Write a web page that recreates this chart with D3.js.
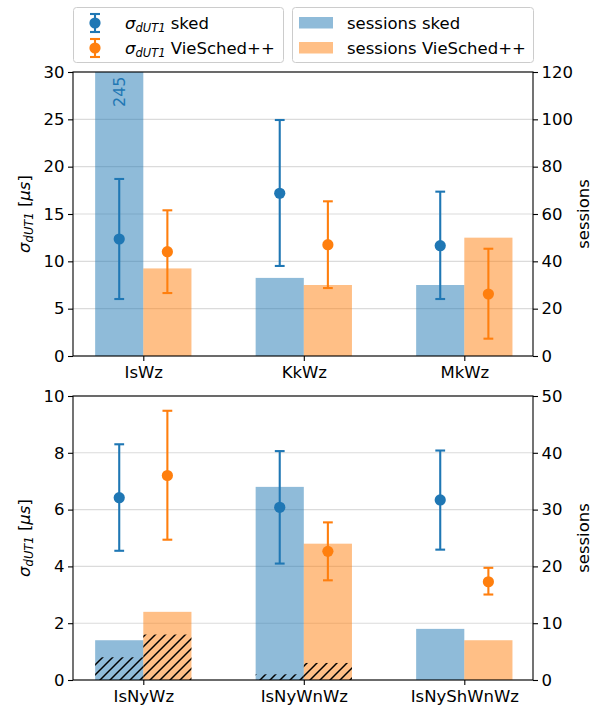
<!DOCTYPE html>
<html>
<head>
<meta charset="utf-8">
<script src="https://cdn.jsdelivr.net/npm/d3@7"></script>
<style>
  body { margin: 0; background: #fff; }
  svg { font-family: "DejaVu Sans", sans-serif; }
</style>
</head>
<body>
<svg id="svg" width="605" height="709"></svg>
<script>
// --- data ---
const topCategories = ['IsWz', 'KkWz', 'MkWz'];
const topSkedSigma = [12.36, 17.19, 11.65];
const topSkedLow = [6.02, 9.51, 6.02];
const topSkedHigh = [18.7, 24.93, 17.36];
const topVieSigma = [11.02, 11.76, 6.55];
const topVieLow = [6.65, 7.18, 1.83];
const topVieHigh = [15.39, 16.34, 11.33];
const topSkedSessions = [245, 33, 30];
const topVieSessions = [37, 30, 50];
const topSkedHatched = [0, 0, 0];
const topVieHatched = [0, 0, 0];
const topSigmaTicks = [0, 5, 10, 15, 20, 25, 30];
const topSessionTicks = [0, 20, 40, 60, 80, 100, 120];

const botCategories = ['IsNyWz', 'IsNyWnWz', 'IsNyShWnWz'];
const botSkedSigma = [6.42, 6.08, 6.34];
const botSkedLow = [4.55, 4.10, 4.59];
const botSkedHigh = [8.30, 8.06, 8.08];
const botVieSigma = [7.20, 4.53, 3.46];
const botVieLow = [4.94, 3.51, 3.01];
const botVieHigh = [9.48, 5.55, 3.95];
const botSkedSessions = [7, 34, 9];
const botVieSessions = [12, 24, 7];
const botSkedHatched = [4, 1, 0];
const botVieHatched = [8, 3, 0];
const botSigmaTicks = [0, 2, 4, 6, 8, 10];
const botSessionTicks = [0, 10, 20, 30, 40, 50];

const blue = '#1f77b4';
const orange = '#ff7f0e';
const fontSize = 16.5;

const svg = d3.select('#svg');
const defs = svg.append('defs');

// hatch pattern "//"
const hs = 10;
const pat = defs.append('pattern')
  .attr('id', 'hatch')
  .attr('patternUnits', 'userSpaceOnUse')
  .attr('width', hs).attr('height', hs);
pat.append('path')
  .attr('d', `M-2,2 L2,-2 M0,${hs} L${hs},0 M${hs - 2},${hs + 2} L${hs + 2},${hs - 2}`)
  .attr('stroke', '#000').attr('stroke-width', 1.5);

const left = 73, right = 533;
const x = d3.scaleLinear().domain([-0.438, 2.428]).range([left, right]);
const barW = 0.3;

function errorBar(g, cx, yLow, yHigh, yMid, color) {
  g.append('line').attr('x1', cx).attr('x2', cx).attr('y1', yLow).attr('y2', yHigh)
    .attr('stroke', color).attr('stroke-width', 2.1);
  [yLow, yHigh].forEach(yy => {
    g.append('line').attr('x1', cx - 4.9).attr('x2', cx + 4.9).attr('y1', yy).attr('y2', yy)
      .attr('stroke', color).attr('stroke-width', 2.1);
  });
  g.append('circle').attr('cx', cx).attr('cy', yMid).attr('r', 5.6).attr('fill', color);
}

function drawPanel(p) {
  const ySig = d3.scaleLinear().domain([0, p.sigmaMax]).range([p.bottom, p.top]);
  const ySes = d3.scaleLinear().domain([0, p.sessionMax]).range([p.bottom, p.top]);
  const g = svg.append('g');

  const clipId = 'clip' + p.id;
  defs.append('clipPath').attr('id', clipId)
    .append('rect').attr('x', left).attr('y', p.top).attr('width', right - left).attr('height', p.bottom - p.top);

  // grid
  g.append('g').selectAll('line').data(p.sigmaTicks).join('line')
    .attr('x1', left).attr('x2', right)
    .attr('y1', d => ySig(d)).attr('y2', d => ySig(d))
    .attr('stroke', '#b0b0b0').attr('stroke-opacity', 0.45).attr('stroke-width', 1.1);

  const plot = g.append('g').attr('clip-path', `url(#${clipId})`);
  const idx = d3.range(p.categories.length);

  // session bars
  plot.selectAll('rect.sked').data(idx).join('rect').attr('class', 'sked')
    .attr('x', i => x(i - barW)).attr('width', x(barW) - x(0))
    .attr('y', i => ySes(p.skedSessions[i])).attr('height', i => ySes(0) - ySes(p.skedSessions[i]))
    .attr('fill', blue).attr('fill-opacity', 0.5);
  plot.selectAll('rect.vie').data(idx).join('rect').attr('class', 'vie')
    .attr('x', i => x(i)).attr('width', x(barW) - x(0))
    .attr('y', i => ySes(p.vieSessions[i])).attr('height', i => ySes(0) - ySes(p.vieSessions[i]))
    .attr('fill', orange).attr('fill-opacity', 0.5);

  // hatched portions
  plot.selectAll('rect.hs').data(idx.filter(i => p.skedHatched[i] > 0)).join('rect').attr('class', 'hs')
    .attr('x', i => x(i - barW)).attr('width', x(barW) - x(0))
    .attr('y', i => ySes(p.skedHatched[i])).attr('height', i => ySes(0) - ySes(p.skedHatched[i]))
    .attr('fill', 'url(#hatch)');
  plot.selectAll('rect.hv').data(idx.filter(i => p.vieHatched[i] > 0)).join('rect').attr('class', 'hv')
    .attr('x', i => x(i)).attr('width', x(barW) - x(0))
    .attr('y', i => ySes(p.vieHatched[i])).attr('height', i => ySes(0) - ySes(p.vieHatched[i]))
    .attr('fill', 'url(#hatch)');

  // labels for clipped bars
  idx.filter(i => p.skedSessions[i] > p.sessionMax).forEach(i => {
    const cx = x(i - barW / 2);
    g.append('text').attr('transform', `translate(${cx + 5.5},${p.top + 35}) rotate(-90)`)
      .attr('fill', blue).attr('font-size', 16).text(p.skedSessions[i]);
  });

  // error bars
  idx.forEach(i => {
    errorBar(plot, x(i - barW / 2), ySig(p.skedLow[i]), ySig(p.skedHigh[i]), ySig(p.skedSigma[i]), blue);
    errorBar(plot, x(i + barW / 2), ySig(p.vieLow[i]), ySig(p.vieHigh[i]), ySig(p.vieSigma[i]), orange);
  });

  // axes
  const axL = g.append('g').attr('transform', `translate(${left},0)`)
    .call(d3.axisLeft(ySig).tickValues(p.sigmaTicks).tickSize(5).tickSizeOuter(0).tickPadding(3.5));
  const axR = g.append('g').attr('transform', `translate(${right},0)`)
    .call(d3.axisRight(ySes).tickValues(p.sessionTicks).tickSize(5).tickSizeOuter(0).tickPadding(3.5));
  const axB = g.append('g').attr('transform', `translate(0,${p.bottom})`)
    .call(d3.axisBottom(x).tickValues(idx).tickFormat(i => p.categories[i]).tickSize(5).tickSizeOuter(0).tickPadding(5));
  [axL, axR, axB].forEach(a => {
    a.select('.domain').remove();
    a.selectAll('.tick line').attr('stroke', '#000').attr('stroke-width', 1.1);
    a.selectAll('.tick text').attr('fill', '#000').attr('font-size', fontSize)
      .attr('font-family', '"DejaVu Sans", sans-serif');
  });

  g.append('rect').attr('x', left).attr('y', p.top).attr('width', right - left).attr('height', p.bottom - p.top)
    .attr('fill', 'none').attr('stroke', '#000').attr('stroke-width', 1.1);

  // axis titles
  const yMid = (p.top + p.bottom) / 2;
  const lt = g.append('text').attr('transform', `translate(30,${yMid}) rotate(-90)`)
    .attr('text-anchor', 'middle').attr('font-size', fontSize);
  lt.append('tspan').attr('font-style', 'italic').text('σ');
  lt.append('tspan').attr('font-style', 'italic').attr('font-size', 11.5).attr('dy', 3).text('dUT1');
  lt.append('tspan').attr('dy', -3).text(' [');
  lt.append('tspan').attr('font-style', 'italic').text('μs');
  lt.append('tspan').text(']');

  g.append('text').attr('transform', `translate(589,${yMid}) rotate(-90)`)
    .attr('text-anchor', 'middle').attr('font-size', fontSize).text('sessions');
}

drawPanel({
  id: 'top', top: 72, bottom: 356, sigmaMax: 30, sessionMax: 120,
  categories: topCategories, skedSigma: topSkedSigma, skedLow: topSkedLow, skedHigh: topSkedHigh,
  vieSigma: topVieSigma, vieLow: topVieLow, vieHigh: topVieHigh,
  skedSessions: topSkedSessions, vieSessions: topVieSessions,
  skedHatched: topSkedHatched, vieHatched: topVieHatched,
  sigmaTicks: topSigmaTicks, sessionTicks: topSessionTicks
});
drawPanel({
  id: 'bot', top: 396, bottom: 680, sigmaMax: 10, sessionMax: 50,
  categories: botCategories, skedSigma: botSkedSigma, skedLow: botSkedLow, skedHigh: botSkedHigh,
  vieSigma: botVieSigma, vieLow: botVieLow, vieHigh: botVieHigh,
  skedSessions: botSkedSessions, vieSessions: botVieSessions,
  skedHatched: botSkedHatched, vieHatched: botVieHatched,
  sigmaTicks: botSigmaTicks, sessionTicks: botSessionTicks
});

// legends
const legL = svg.append('g');
legL.append('rect').attr('x', 73.5).attr('y', 7.5).attr('width', 210).attr('height', 55).attr('rx', 3)
  .attr('fill', '#fff').attr('fill-opacity', 0.8).attr('stroke', '#cccccc');
[['sked', blue, 23], ['VieSched++', orange, 48]].forEach(([name, c, yy]) => {
  const gg = legL.append('g');
  gg.append('line').attr('x1', 95).attr('x2', 95).attr('y1', yy - 9).attr('y2', yy + 9).attr('stroke', c).attr('stroke-width', 2.1);
  [yy - 9, yy + 9].forEach(v => gg.append('line').attr('x1', 90).attr('x2', 100).attr('y1', v).attr('y2', v).attr('stroke', c).attr('stroke-width', 2.1));
  gg.append('circle').attr('cx', 95).attr('cy', yy).attr('r', 5.6).attr('fill', c);
  const t = gg.append('text').attr('x', 125).attr('y', yy + 6).attr('font-size', fontSize);
  t.append('tspan').attr('font-style', 'italic').text('σ');
  t.append('tspan').attr('font-style', 'italic').attr('font-size', 11.5).attr('dy', 3).text('dUT1');
  t.append('tspan').attr('dy', -3).text(' ' + name);
});

const legR = svg.append('g');
legR.append('rect').attr('x', 292.5).attr('y', 7.5).attr('width', 241).attr('height', 55).attr('rx', 3)
  .attr('fill', '#fff').attr('fill-opacity', 0.8).attr('stroke', '#cccccc');
[['sessions sked', blue, 23], ['sessions VieSched++', orange, 48]].forEach(([name, c, yy]) => {
  legR.append('rect').attr('x', 299).attr('y', yy - 6).attr('width', 34).attr('height', 11.5)
    .attr('fill', c).attr('fill-opacity', 0.5);
  legR.append('text').attr('x', 347).attr('y', yy + 6).attr('font-size', fontSize).text(name);
});
</script>
</body>
</html>
